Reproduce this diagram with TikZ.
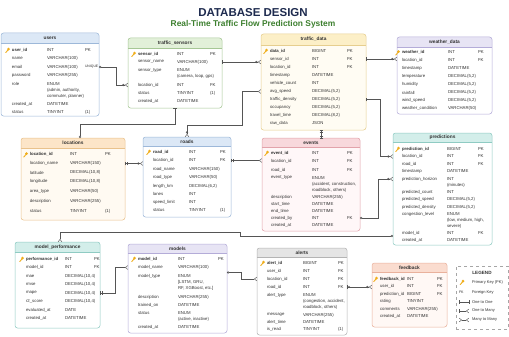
\documentclass[tikz,border=0pt]{standalone}
\usepackage{fontspec}
\setmainfont{Liberation Sans}
\usetikzlibrary{arrows.meta}
\definecolor{navy}{HTML}{1E2B4F}
\definecolor{green1}{HTML}{3C7F2E}
\definecolor{txt}{HTML}{333333}
\definecolor{lnk}{HTML}{555555}
\definecolor{keygold}{HTML}{F0AE1A}
\definecolor{blueH}{HTML}{DCE8F6}\definecolor{blueD}{HTML}{9DB8D9}\definecolor{blueB}{HTML}{FFFFFF}
\definecolor{greenH}{HTML}{E2F0D9}\definecolor{greenD}{HTML}{A6C795}\definecolor{greenB}{HTML}{FFFFFF}
\definecolor{yellowH}{HTML}{FCEFC7}\definecolor{yellowD}{HTML}{E6CE8E}\definecolor{yellowB}{HTML}{FFFCF3}
\definecolor{lavH}{HTML}{E7E4F4}\definecolor{lavD}{HTML}{B4ACD8}\definecolor{lavB}{HTML}{FFFFFF}
\definecolor{orangeH}{HTML}{FCE5C8}\definecolor{orangeD}{HTML}{E9C28C}\definecolor{orangeB}{HTML}{FFFAF2}
\definecolor{pinkH}{HTML}{F8D8DC}\definecolor{pinkD}{HTML}{E2A3AB}\definecolor{pinkB}{HTML}{FFF7F8}
\definecolor{tealH}{HTML}{D3EEEA}\definecolor{tealD}{HTML}{8FCBC3}\definecolor{tealB}{HTML}{FFFFFF}
\definecolor{grayH}{HTML}{E5E5E5}\definecolor{grayD}{HTML}{B4B4B4}\definecolor{grayB}{HTML}{FFFFFF}
\definecolor{peachH}{HTML}{FADCCF}\definecolor{peachD}{HTML}{E9B19C}\definecolor{peachB}{HTML}{FFF8F5}
\newcommand\rf{\fontsize{4.3}{5}\selectfont}
\newcommand\hf{\fontsize{4.8}{5.5}\selectfont\bfseries}
\tikzset{
 rt/.style={anchor=west, inner sep=0pt, outer sep=0pt, font=\rf, text=txt},
 ttl/.style={inner sep=0pt, font=\hf, text=txt},
 lk/.style={draw=lnk, line width=0.45pt},
 tone/.tip={Bar[width=3.6pt]},
 ttwo/.tip={Bar[width=3.6pt,sep=1.2pt]Bar[width=3.6pt]},
 tmany/.tip={Straight Barb[reversed,length=2.4pt,width=3.8pt]},
 tzero/.tip={Circle[open,length=2.2pt,width=2.2pt]},
 tzmany/.tip={Circle[open,length=2.2pt,width=2.2pt,sep=0.5pt]Straight Barb[reversed,length=2.4pt,width=3.8pt]},
 tzone/.tip={Circle[open,length=2.2pt,width=2.2pt,sep=0.5pt]Bar[width=3.6pt]},
}
% #1 name #2 x1 #3 y1 #4 x2 #5 y2 #6 header bottom #7 colour prefix #8 title
\newcommand\tbox[8]{%
 \fill[#7B, rounded corners=2.5pt] (#2,#3) rectangle (#4,#5);
 \begin{scope}
  \clip[rounded corners=2.5pt] (#2,#3) rectangle (#4,#5);
  \fill[#7H] (#2,#3) rectangle (#4,#6);
 \end{scope}
 \node[draw=#7D, line width=0.5pt, rounded corners=2.5pt, inner sep=0pt, outer sep=0pt,
   minimum width={(#4-#2)*1pt}, minimum height={(#5-#3)*1pt}, anchor=north west] (#1) at (#2,#3) {};
 \draw[#7D, line width=0.4pt] (#2,#6) -- (#4,#6);
 \node[ttl] (#1-title) at ({(#2+#4)/2},{(#3+#6)/2}) {#8};
}
\newcommand\keyicon[2]{%
 \draw[keygold, line width=0.9pt, line cap=round] (#1-0.5,#2) -- (#1-2.8,#2+2.6);
 \fill[keygold] (#1,#2-0.8) circle[radius=1.5pt];
}
\newcommand\tabrow[5]{%
 \node[rt] (#1) at (\colN,#2) {#3};
 \node[rt] (#1-t) at (\colT,#2) {#4};
 \node[rt] (#1-k) at (\colK,#2) {#5};}
\newcommand\tabpk[5]{%
 \keyicon{\colN-3.5}{#2}
 \node[rt, font=\rf\bfseries] (#1) at (\colN,#2) {#3};
 \node[rt] (#1-t) at (\colT,#2) {#4};
 \node[rt] (#1-k) at (\colK,#2) {#5};}
\newcommand\tabsub[3]{\node[rt] (#1) at (\colT,#2) {#3};}
\begin{document}
\begin{tikzpicture}[x=1pt,y=-1pt]
\useasboundingbox (0,0) rectangle (509,337);
\fill[white] (0,0) rectangle (509,337);
\node[font=\fontsize{11.5}{13}\selectfont\bfseries, text=navy, inner sep=0pt] (title) at (253,13) {DATABASE DESIGN};
\node[font=\fontsize{8.4}{10}\selectfont\bfseries, text=green1, inner sep=0pt] (subtitle) at (253,24) {Real-Time Traffic Flow Prediction System};

% users
\tbox{users}{1}{33}{99}{116}{43}{blue}{users}
\def\colN{12}\def\colT{47}\def\colK{85}
\tabpk{u-id}{50}{user\_id}{INT}{PK}
\tabrow{u-name}{58.5}{name}{VARCHAR(100)}{}
\tabrow{u-email}{67}{email}{VARCHAR(100)}{{\fontsize{3.4}{4}\selectfont UNIQUE}}
\tabrow{u-pass}{75.5}{password}{VARCHAR(255)}{}
\tabrow{u-role}{84}{role}{ENUM}{}
\tabsub{u-role1}{90}{(admin, authority,}
\tabsub{u-role2}{96}{commuter, planner)}
\tabrow{u-cat}{104}{created\_at}{DATETIME}{}
\tabrow{u-st}{112}{status}{TINYINT}{(1)}

% traffic_sensors
\tbox{ts}{128}{38}{222}{108}{48}{green}{traffic\_sensors}
\def\colN{138}\def\colT{177}\def\colK{210}
\tabpk{ts-id}{54}{sensor\_id}{INT}{PK}
\tabrow{ts-name}{62}{sensor\_name}{VARCHAR(100)}{}
\tabrow{ts-type}{70.5}{sensor\_type}{ENUM}{}
\tabsub{ts-type1}{76.5}{(camera, loop, gps)}
\tabrow{ts-loc}{85}{location\_id}{INT}{FK}
\tabrow{ts-st}{93}{status}{TINYINT}{(1)}
\tabrow{ts-cat}{101}{created\_at}{DATETIME}{}

% traffic_data
\tbox{td}{261}{34}{366}{130}{45}{yellow}{traffic\_data}
\def\colN{270}\def\colT{312}\def\colK{347}
\tabpk{td-id}{51}{data\_id}{BIGINT}{PK}
\tabrow{td-sensor}{59}{sensor\_id}{INT}{FK}
\tabrow{td-loc}{67}{location\_id}{INT}{FK}
\tabrow{td-ts}{75.5}{timestamp}{DATETIME}{}
\tabrow{td-vc}{83.5}{vehicle\_count}{INT}{}
\tabrow{td-avg}{91.5}{avg\_speed}{DECIMAL(5,2)}{}
\tabrow{td-density}{99.5}{traffic\_density}{DECIMAL(5,2)}{}
\tabrow{td-occ}{107.5}{occupancy}{DECIMAL(5,2)}{}
\tabrow{td-tt}{115.5}{travel\_time}{DECIMAL(8,2)}{}
\tabrow{td-raw}{123.5}{raw\_data}{JSON}{}

% weather_data
\tbox{wd}{397}{37}{492}{114}{47}{lav}{weather\_data}
\def\colN{402}\def\colT{448}\def\colK{478}
\tabpk{wd-id}{52.5}{weather\_id}{INT}{PK}
\tabrow{wd-loc}{60.5}{location\_id}{INT}{FK}
\tabrow{wd-ts}{68.5}{timestamp}{DATETIME}{}
\tabrow{wd-temp}{76.5}{temperature}{DECIMAL(5,2)}{}
\tabrow{wd-hum}{84.5}{humidity}{DECIMAL(5,2)}{}
\tabrow{wd-rain}{92.5}{rainfall}{DECIMAL(5,2)}{}
\tabrow{wd-wind}{100.5}{wind\_speed}{DECIMAL(5,2)}{}
\tabrow{wd-cond}{108.5}{weather\_condition}{VARCHAR(50)}{}

% locations
\tbox{loc}{21}{138}{125}{220}{148}{orange}{locations}
\def\colN{30}\def\colT{70}\def\colK{105}
\tabpk{loc-id}{154.5}{location\_id}{INT}{PK}
\tabrow{loc-name}{163.5}{location\_name}{VARCHAR(150)}{}
\tabrow{loc-lat}{172.5}{latitude}{DECIMAL(10,8)}{}
\tabrow{loc-lon}{181.5}{longitude}{DECIMAL(10,8)}{}
\tabrow{loc-area}{191.5}{area\_type}{VARCHAR(50)}{}
\tabrow{loc-desc}{201.5}{description}{VARCHAR(255)}{}
\tabrow{loc-st}{211}{status}{TINYINT}{(1)}

% roads
\tbox{rd}{143}{137}{231}{217}{146}{blue}{roads}
\def\colN{153}\def\colT{189}\def\colK{220}
\tabpk{rd-id}{152}{road\_id}{INT}{PK}
\tabrow{rd-loc}{160.5}{location\_id}{INT}{FK}
\tabrow{rd-name}{169}{road\_name}{VARCHAR(150)}{}
\tabrow{rd-type}{177.5}{road\_type}{VARCHAR(50)}{}
\tabrow{rd-len}{186}{length\_km}{DECIMAL(6,2)}{}
\tabrow{rd-lanes}{194}{lanes}{INT}{}
\tabrow{rd-speed}{202}{speed\_limit}{INT}{}
\tabrow{rd-st}{210}{status}{TINYINT}{(1)}

% events
\tbox{ev}{262}{138}{360}{231}{147}{pink}{events}
\def\colN{271}\def\colT{312}\def\colK{347}
\tabpk{ev-id}{153}{event\_id}{INT}{PK}
\tabrow{ev-loc}{161.5}{location\_id}{INT}{FK}
\tabrow{ev-road}{170}{road\_id}{INT}{FK}
\tabrow{ev-type}{178}{event\_type}{ENUM}{}
\tabsub{ev-type1}{184}{(accident, construction,}
\tabsub{ev-type2}{190}{roadblock, others)}
\tabrow{ev-desc}{197}{description}{VARCHAR(255)}{}
\tabrow{ev-start}{204}{start\_time}{DATETIME}{}
\tabrow{ev-end}{211}{end\_time}{DATETIME}{}
\tabrow{ev-cby}{218}{created\_by}{INT}{FK}
\tabrow{ev-cat}{225}{created\_at}{DATETIME}{}

% predictions
\tbox{pr}{393}{133}{492}{245}{142}{teal}{predictions}
\def\colN{402}\def\colT{447}\def\colK{478}
\tabpk{pr-id}{149}{prediction\_id}{BIGINT}{PK}
\tabrow{pr-loc}{156.5}{location\_id}{INT}{FK}
\tabrow{pr-road}{164}{road\_id}{INT}{FK}
\tabrow{pr-ts}{171.5}{timestamp}{DATETIME}{}
\tabrow{pr-hor}{179}{prediction\_horizon}{INT}{}
\tabsub{pr-hor1}{185}{(minutes)}
\tabrow{pr-cnt}{192}{predicted\_count}{INT}{}
\tabrow{pr-spd}{199.5}{predicted\_speed}{DECIMAL(5,2)}{}
\tabrow{pr-den}{207}{predicted\_density}{DECIMAL(5,2)}{}
\tabrow{pr-cong}{214.5}{congestion\_level}{ENUM}{}
\tabsub{pr-cong1}{220.5}{(low, medium, high,}
\tabsub{pr-cong2}{226.5}{severe)}
\tabrow{pr-model}{233}{model\_id}{INT}{FK}
\tabrow{pr-cat}{240}{created\_at}{DATETIME}{}

% model_performance
\tbox{mp}{15}{242}{100}{328}{252}{teal}{model\_performance}
\def\colN{26}\def\colT{65}\def\colK{94}
\tabpk{mp-id}{259}{performance\_id}{INT}{PK}
\tabrow{mp-model}{267.5}{model\_id}{INT}{FK}
\tabrow{mp-mae}{276}{mae}{DECIMAL(10,4)}{}
\tabrow{mp-rmse}{284.5}{rmse}{DECIMAL(10,4)}{}
\tabrow{mp-mape}{293}{mape}{DECIMAL(10,4)}{}
\tabrow{mp-r2}{301.5}{r2\_score}{DECIMAL(10,4)}{}
\tabrow{mp-eval}{310}{evaluated\_at}{DATE}{}
\tabrow{mp-cat}{318.5}{created\_at}{DATETIME}{}

% models
\tbox{md}{128}{244}{227}{333}{253}{lav}{models}
\def\colN{138}\def\colT{178}\def\colK{218}
\tabpk{md-id}{259}{model\_id}{INT}{PK}
\tabrow{md-name}{267.5}{model\_name}{VARCHAR(100)}{}
\tabrow{md-type}{276}{model\_type}{ENUM}{}
\tabsub{md-type1}{282}{[LSTM, GRU,}
\tabsub{md-type2}{288}{RF, XGBoost, etc.]}
\tabrow{md-desc}{297}{description}{VARCHAR(255)}{}
\tabrow{md-tr}{305}{trained\_on}{DATETIME}{}
\tabrow{md-st}{313}{status}{ENUM}{}
\tabsub{md-st1}{319}{(active, inactive)}
\tabrow{md-cat}{327}{created\_at}{DATETIME}{}

% alerts
\tbox{al}{257}{248}{347}{335}{257}{gray}{alerts}
\def\colN{267}\def\colT{303}\def\colK{338}
\tabpk{al-id}{263}{alert\_id}{BIGINT}{PK}
\tabrow{al-user}{271}{user\_id}{INT}{FK}
\tabrow{al-loc}{279}{location\_id}{INT}{FK}
\tabrow{al-road}{287}{road\_id}{INT}{FK}
\tabrow{al-type}{295.5}{alert\_type}{ENUM}{}
\tabsub{al-type1}{301.5}{(congestion, accident,}
\tabsub{al-type2}{307.5}{roadblock, others)}
\tabrow{al-msg}{315}{message}{VARCHAR(255)}{}
\tabrow{al-time}{322}{alert\_time}{DATETIME}{}
\tabrow{al-read}{329}{is\_read}{TINYINT}{(1)}

% feedback
\tbox{fb}{372}{263}{447}{327}{272}{peach}{feedback}
\def\colN{380}\def\colT{407}\def\colK{437}
\tabpk{fb-id}{279}{feedback\_id}{INT}{PK}
\tabrow{fb-user}{286.5}{user\_id}{INT}{FK}
\tabrow{fb-pred}{294}{prediction\_id}{BIGINT}{FK}
\tabrow{fb-rate}{301.5}{rating}{TINYINT}{}
\tabrow{fb-com}{309}{comments}{VARCHAR(255)}{}
\tabrow{fb-cat}{316.5}{created\_at}{DATETIME}{}

% legend
\node[draw=gray!70, dashed, line width=0.4pt, inner sep=0pt, minimum width=52pt, minimum height=63pt, anchor=north west] (legend) at (456,266) {};
\node[ttl, font=\fontsize{4.6}{5}\selectfont\bfseries] (lg-title) at (482,273) {LEGEND};
\keyicon{463}{282}
\node[rt, font=\fontsize{4}{5}\selectfont] (lg-pk) at (472,282) {Primary Key (PK)};
\node[rt, font=\fontsize{3.6}{4}\selectfont] (lg-fkm) at (459,292) {FK};
\node[rt, font=\fontsize{4}{5}\selectfont] (lg-fk) at (472,292) {Foreign Key};
\coordinate (lg1a) at (459,302); \coordinate (lg1b) at (469,302);
\coordinate (lg2a) at (459,311); \coordinate (lg2b) at (469,311);
\coordinate (lg3a) at (459,320); \coordinate (lg3b) at (469,320);
\draw[lk, tone-tone] (lg1a) -- (lg1b);
\draw[lk, tone-tmany] (lg2a) -- (lg2b);
\draw[lk, tmany-tmany] (lg3a) -- (lg3b);
\node[rt, font=\fontsize{4}{5}\selectfont] (lg-11) at (472,302) {One to One};
\node[rt, font=\fontsize{4}{5}\selectfont] (lg-1m) at (472,311) {One to Many};
\node[rt, font=\fontsize{4}{5}\selectfont] (lg-mm) at (472,320) {Many to Many};

% connectors
\draw[lk, tzero-tzmany] (users.east |- u-email) -- ++(17,0) |- (ts.west |- ts-loc);
\draw[lk, tone-tzmany] (ts.east |- ts-name) -- (td.west |- ts-name);
\draw[lk, tone-tzmany] (td.east |- td-sensor) -- (wd.west |- td-sensor);
\draw[lk, tmany-tzmany] (td.west |- td-avg) -- ++(-19,0) |- ([yshift=12pt]rd.north) -- (rd.north);
\draw[lk, tone-tzero] (ts.south) |- ([xshift=7pt,yshift=14pt]loc.north) -- ([xshift=7pt]loc.north);
\draw[lk, ttwo-tzmany] (loc.east |- loc-name) -- (rd.west |- loc-name);
\draw[lk, ttwo-tmany] (rd.east |- rd-loc) -- (ev.west |- rd-loc);
\draw[lk, ttwo-ttwo] ([xshift=8pt]td.south) -- ([xshift=8pt]td.south |- ev.north);
\draw[lk, tone-tzmany] (td.east |- td-density) -- ++(14,0) |- (pr.west |- pr-loc);
\draw[lk, tzero-tzmany] (ev.east |- ev-cby) -- ++(18,0) |- (pr.west |- pr-hor);
\draw[lk, tzero-tmany] ([yshift=-3pt]pr.west |- pr-model) -- ++(-153,0) -- ++(0,-4) -| ([xshift=2.5pt]mp.north);
\draw[lk, ttwo-tmany] (mp.east |- mp-mape) -- ++(15,0) |- (md.west |- md-name);
\draw[lk, tzero-tmany] ([yshift=-5pt]md.east |- md-name) -- ++(14,0) |- (al.west |- al-loc);
\draw[lk, tzone-tzmany] (al.east |- al-road) -- (fb.west |- al-road);
\end{tikzpicture}
\end{document}
